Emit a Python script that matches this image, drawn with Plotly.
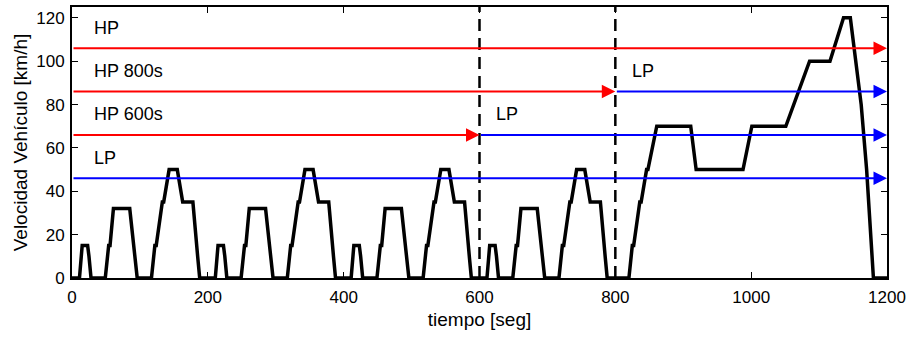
import plotly.graph_objects as go

# Urban cycle (ECE-15), one 200 s block: breakpoints in s and km/h
ECE_T = [0, 11, 15, 23, 25, 28, 49, 54, 56, 61, 85, 93, 96, 117, 122, 124,
         133, 135, 143, 155, 163, 176, 178, 185, 188, 200]
ECE_V = [0, 0, 15, 15, 10, 0, 0, 15, 15, 32, 32, 10, 0, 0, 15, 15,
         35, 35, 50, 50, 35, 35, 35, 10, 0, 0]
ECE_STARTS = [0, 200, 400, 600]

# Extra-urban cycle (EUDC), starting at 800 s
EUDC_START = 800
EUDC_T = [0, 20, 25, 27, 36, 38, 46, 48, 61, 111, 119, 188, 201, 251, 286,
          316, 336, 346, 362, 370, 380, 400]
EUDC_V = [0, 0, 15, 15, 35, 35, 50, 50, 70, 70, 50, 50, 70, 70, 100,
          100, 120, 120, 80, 50, 0, 0]

# Power-mode bands: label, level, switch time to LP, colour before switch
BAND_LABELS = ["HP", "HP 800s", "HP 600s", "LP"]
BAND_LEVELS = [106, 86, 66, 46]
BAND_SWITCH = [None, 800, 600, None]
BAND_COLOR = ["red", "red", "red", "blue"]
SWITCH_TIMES = [600, 800]
T_END = 1200

t, v = [], []
for s in ECE_STARTS:
    t += [s + x for x in ECE_T]
    v += ECE_V
t += [EUDC_START + x for x in EUDC_T]
v += EUDC_V

fig = go.Figure()
fig.add_trace(go.Scatter(x=t, y=v, mode="lines",
                         line=dict(color="black", width=3.5),
                         showlegend=False, hoverinfo="skip"))

FAMILY = "Liberation Sans, Arial, sans-serif"
font = dict(family=FAMILY, size=18, color="black")
titlefont = dict(family=FAMILY, size=19, color="black")
tickfont = dict(family=FAMILY, size=17, color="black")


def arrow(x0, x1, y, color):
    fig.add_annotation(x=x1, y=y, ax=x0, ay=y, xref="x", yref="y",
                       axref="x", ayref="y", text="", showarrow=True,
                       arrowhead=2, arrowsize=1.35, arrowwidth=2,
                       arrowcolor=color, standoff=0, startstandoff=0)


for lab, lvl, sw, col in zip(BAND_LABELS, BAND_LEVELS, BAND_SWITCH, BAND_COLOR):
    if sw is None:
        arrow(0, T_END, lvl, col)
    else:
        arrow(0, sw, lvl, col)
        arrow(sw, T_END, lvl, "blue")
        fig.add_annotation(x=sw + 22, y=lvl + 9.5, text="LP", showarrow=False,
                           xanchor="left", yanchor="middle", font=font)
    fig.add_annotation(x=29, y=lvl + 9.5, text=lab, showarrow=False,
                       xanchor="left", yanchor="middle", font=font)

for s in SWITCH_TIMES:
    fig.add_shape(type="line", x0=s, x1=s, y0=0, y1=1, xref="x", yref="paper",
                  line=dict(color="black", width=2.5, dash="12px,7px"))

axis_common = dict(showgrid=False, zeroline=False, showline=True,
                   linecolor="black", linewidth=2, mirror="ticks",
                   ticks="inside", ticklen=6, tickwidth=1.2, tickcolor="black",
                   tickfont=tickfont)

fig.update_xaxes(range=[0, 1200], tickvals=[0, 200, 400, 600, 800, 1000, 1200],
                 ticklabelstandoff=3,
                 title=dict(text="tiempo [seg]", font=titlefont, standoff=6),
                 **axis_common)
fig.update_yaxes(range=[0, 125], tickvals=[0, 20, 40, 60, 80, 100, 120],
                 ticklabelstandoff=2,
                 title=dict(text="Velocidad Vehículo [km/h]", font=titlefont,
                            standoff=4),
                 **axis_common)

fig.update_layout(width=912, height=337, plot_bgcolor="white",
                  paper_bgcolor="white",
                  margin=dict(l=72, r=25, t=5, b=59))

fig.write_html("out.html")
